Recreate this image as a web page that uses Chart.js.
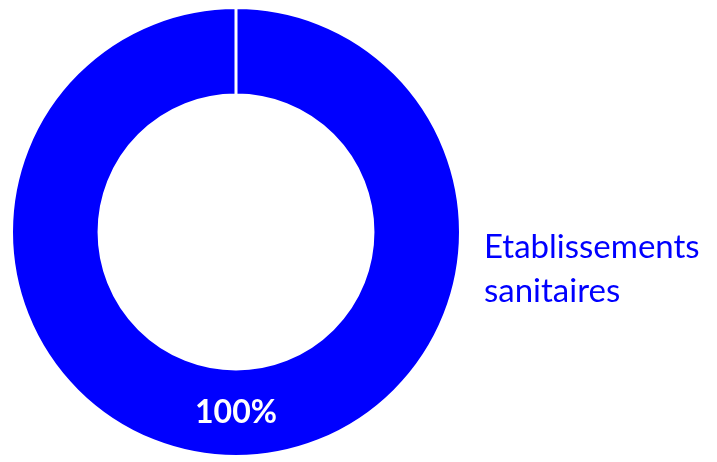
<!DOCTYPE html>
<html>
<head>
<meta charset="utf-8">
<script src="https://cdn.jsdelivr.net/npm/chart.js@4"></script>
<style>
  html, body { margin: 0; padding: 0; background: #fff; }
  #wrap { width: 717px; height: 462px; }
</style>
</head>
<body>
<div id="wrap"><canvas id="donut"></canvas></div>
<script>
// données du graphique
const labels = ["Etablissements sanitaires"];
const values = [100];
const labelLines = [["Etablissements", "sanitaires"]];
const colors = ["#0000FF"];

// étiquette de valeur au centre de l'arc + nom de la catégorie à droite
const labelsPlugin = {
  id: "donutLabels",
  afterDatasetsDraw(chart) {
    const ctx = chart.ctx;
    const meta = chart.getDatasetMeta(0);
    const total = values.reduce((a, b) => a + b, 0);
    meta.data.forEach((arc, i) => {
      const pos = arc.tooltipPosition();
      // pour une seule part, on place le pourcentage en bas
      let x = pos.x, y = pos.y;
      if (values.length === 1) {
        const r = (arc.outerRadius + arc.innerRadius) / 2;
        x = arc.x;
        y = arc.y + r;
      }
      ctx.save();
      ctx.fillStyle = "#ffffff";
      ctx.font = "bold 32px Lato";
      ctx.textAlign = "center";
      ctx.textBaseline = "middle";
      ctx.fillText(Math.round(values[i] / total * 100) + "%", x, y);
      ctx.restore();

      ctx.save();
      ctx.fillStyle = colors[i];
      ctx.font = "33px Lato";
      ctx.textAlign = "left";
      ctx.textBaseline = "alphabetic";
      labelLines[i].forEach((line, j) => {
        ctx.fillText(line, 484, 258 + j * 44);
      });
      ctx.restore();
    });
  }
};

new Chart(document.getElementById("donut"), {
  type: "doughnut",
  data: {
    labels: labels,
    datasets: [{
      data: values,
      backgroundColor: colors,
      borderColor: "#ffffff",
      borderWidth: 3
    }]
  },
  options: {
    responsive: true,
    maintainAspectRatio: false,
    animation: false,
    cutout: "61%",
    layout: { padding: { left: 10, right: 255, top: 6, bottom: 4 } },
    plugins: {
      legend: { display: false },
      tooltip: { enabled: false }
    }
  },
  plugins: [labelsPlugin]
});
</script>
</body>
</html>
